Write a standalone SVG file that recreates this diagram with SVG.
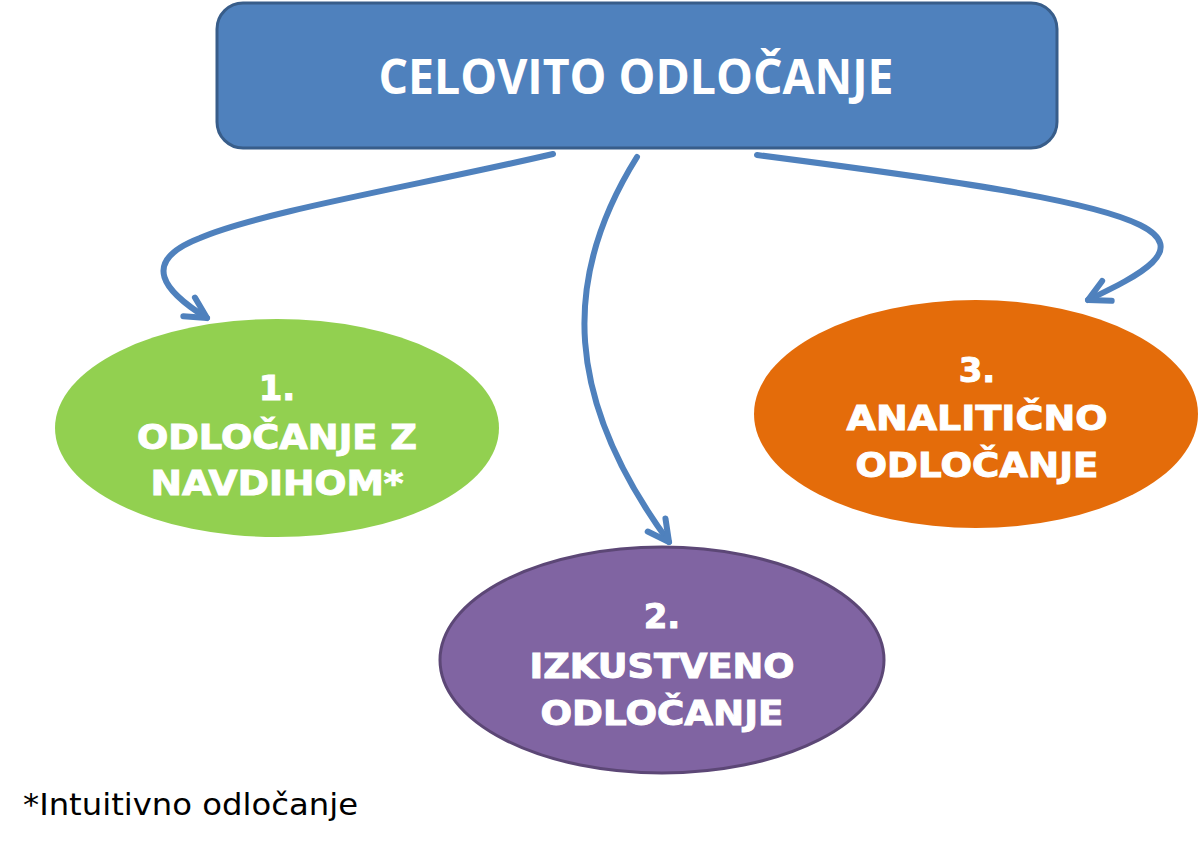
<svg xmlns="http://www.w3.org/2000/svg" width="1200" height="848" viewBox="0 0 1200 848">
  <style>
    .conn { fill: none; stroke: #4F81BD; stroke-width: 6; stroke-linecap: round; stroke-linejoin: round; }
    .lbl { font-family: "DejaVu Sans", Verdana, sans-serif; font-weight: bold; font-size: 34px; fill: #FFFFFF; stroke: #FFFFFF; stroke-width: 1; text-anchor: middle; }
    .title { font-family: "Open Sans", "Liberation Sans", sans-serif; font-weight: bold; font-size: 48px; fill: #FFFFFF; text-anchor: middle; }
    .note { font-family: "DejaVu Sans", Verdana, sans-serif; font-size: 31px; fill: #000000; }
  </style>
  <defs>
    <marker id="arrow" viewBox="-30 -20 40 40" refX="0" refY="0" markerWidth="40" markerHeight="40" markerUnits="userSpaceOnUse" orient="auto" overflow="visible">
      <path d="M-21,-11 L0,0 L-21,11" fill="none" stroke="#4F81BD" stroke-width="6" stroke-linecap="round" stroke-linejoin="round"/>
    </marker>
  </defs>
  <rect width="1200" height="848" fill="#FFFFFF"/>

  <g id="connectors">
    <path class="conn" d="M553,154 C420,185 260,212 200,238 C138,262 165,292 207,318" marker-end="url(#arrow)"/>
    <path class="conn" d="M637,157 C560,280 565,400 669,542" marker-end="url(#arrow)"/>
    <path class="conn" d="M757,155 C950,180 1090,200 1140,225 C1190,250 1140,275 1088,300" marker-end="url(#arrow)"/>
  </g>

  <g id="celovito">
    <rect x="217" y="3" width="840" height="145" rx="26" ry="26" fill="#4F81BD" stroke="#385D8A" stroke-width="3"/>
    <text class="title" x="636" y="94" textLength="515" lengthAdjust="spacingAndGlyphs">CELOVITO ODLOČANJE</text>
  </g>

  <g id="navdih">
    <ellipse cx="277" cy="428" rx="222" ry="109" fill="#92D050"/>
    <text class="lbl" x="277" y="400">1.</text>
    <text class="lbl" x="277" y="449" textLength="280" lengthAdjust="spacingAndGlyphs">ODLOČANJE Z</text>
    <text class="lbl" x="277" y="495" textLength="253" lengthAdjust="spacingAndGlyphs">NAVDIHOM*</text>
  </g>

  <g id="analiticno">
    <ellipse cx="976" cy="414" rx="222" ry="114" fill="#E46C0A"/>
    <text class="lbl" x="977" y="382">3.</text>
    <text class="lbl" x="977" y="430" textLength="261" lengthAdjust="spacingAndGlyphs">ANALITIČNO</text>
    <text class="lbl" x="977" y="477" textLength="243" lengthAdjust="spacingAndGlyphs">ODLOČANJE</text>
  </g>

  <g id="izkustveno">
    <ellipse cx="662" cy="660" rx="222" ry="113" fill="#8064A2" stroke="#5C4776" stroke-width="3"/>
    <text class="lbl" x="662" y="628">2.</text>
    <text class="lbl" x="662" y="678" textLength="265" lengthAdjust="spacingAndGlyphs">IZKUSTVENO</text>
    <text class="lbl" x="662" y="725" textLength="243" lengthAdjust="spacingAndGlyphs">ODLOČANJE</text>
  </g>

  <g id="footnote">
    <text class="note" x="23" y="815" textLength="335" lengthAdjust="spacingAndGlyphs">*Intuitivno odločanje</text>
  </g>
</svg>
